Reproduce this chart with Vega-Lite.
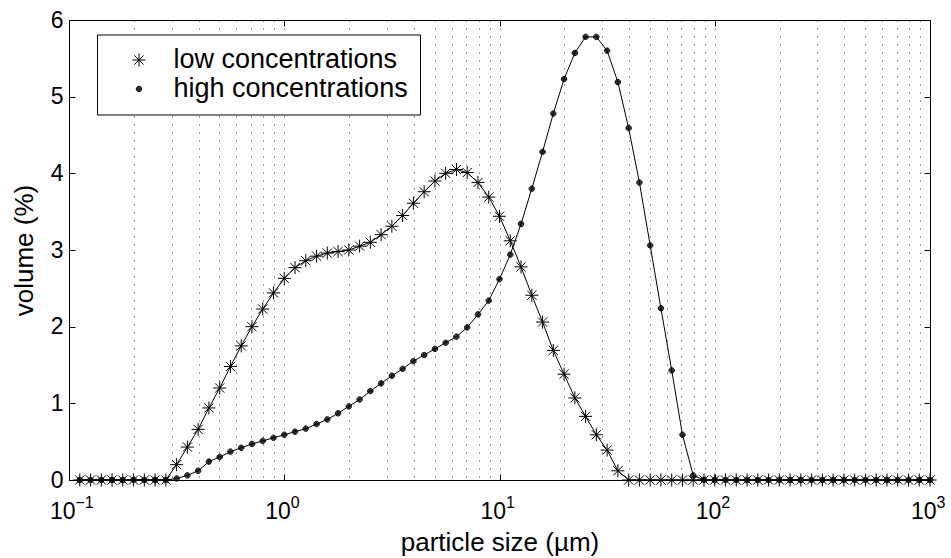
{
  "$schema": "https://vega.github.io/schema/vega-lite/v6.json",
  "width": 861,
  "height": 460,
  "autosize": "none",
  "padding": {"left": 69, "top": 20, "right": 21, "bottom": 78},
  "background": "white",
  "config": {"font": "Liberation Sans", "view": {"stroke": null}},
  "data": {"values": [
    {"size": 0.1122, "low": 0, "high": 0},
    {"size": 0.1259, "low": 0, "high": 0},
    {"size": 0.1413, "low": 0, "high": 0},
    {"size": 0.1585, "low": 0, "high": 0},
    {"size": 0.1778, "low": 0, "high": 0},
    {"size": 0.1995, "low": 0, "high": 0},
    {"size": 0.2239, "low": 0, "high": 0},
    {"size": 0.2512, "low": 0, "high": 0},
    {"size": 0.2818, "low": 0, "high": 0},
    {"size": 0.3162, "low": 0.2, "high": 0.02},
    {"size": 0.3548, "low": 0.43, "high": 0.06},
    {"size": 0.3981, "low": 0.66, "high": 0.12},
    {"size": 0.4467, "low": 0.94, "high": 0.24},
    {"size": 0.5012, "low": 1.2, "high": 0.3},
    {"size": 0.5623, "low": 1.48, "high": 0.37},
    {"size": 0.631, "low": 1.75, "high": 0.42},
    {"size": 0.7079, "low": 2.0, "high": 0.47},
    {"size": 0.7943, "low": 2.23, "high": 0.51},
    {"size": 0.8913, "low": 2.44, "high": 0.55},
    {"size": 1.0, "low": 2.63, "high": 0.59},
    {"size": 1.122, "low": 2.77, "high": 0.63},
    {"size": 1.259, "low": 2.86, "high": 0.67},
    {"size": 1.413, "low": 2.92, "high": 0.73},
    {"size": 1.585, "low": 2.96, "high": 0.79},
    {"size": 1.778, "low": 2.98, "high": 0.87},
    {"size": 1.995, "low": 3.0, "high": 0.96},
    {"size": 2.239, "low": 3.05, "high": 1.05},
    {"size": 2.512, "low": 3.1, "high": 1.16},
    {"size": 2.818, "low": 3.2, "high": 1.26},
    {"size": 3.162, "low": 3.31, "high": 1.36},
    {"size": 3.548, "low": 3.45, "high": 1.45},
    {"size": 3.981, "low": 3.61, "high": 1.55},
    {"size": 4.467, "low": 3.76, "high": 1.63},
    {"size": 5.012, "low": 3.9, "high": 1.71},
    {"size": 5.623, "low": 4.0, "high": 1.79},
    {"size": 6.31, "low": 4.05, "high": 1.87},
    {"size": 7.079, "low": 4.01, "high": 1.99},
    {"size": 7.943, "low": 3.88, "high": 2.16},
    {"size": 8.913, "low": 3.69, "high": 2.34},
    {"size": 10.0, "low": 3.44, "high": 2.62},
    {"size": 11.22, "low": 3.12, "high": 2.94},
    {"size": 12.59, "low": 2.78, "high": 3.34},
    {"size": 14.13, "low": 2.41, "high": 3.8},
    {"size": 15.85, "low": 2.06, "high": 4.28},
    {"size": 17.78, "low": 1.69, "high": 4.78},
    {"size": 19.95, "low": 1.38, "high": 5.23},
    {"size": 22.39, "low": 1.07, "high": 5.57},
    {"size": 25.12, "low": 0.83, "high": 5.78},
    {"size": 28.18, "low": 0.59, "high": 5.78},
    {"size": 31.62, "low": 0.39, "high": 5.6},
    {"size": 35.48, "low": 0.12, "high": 5.19},
    {"size": 39.81, "low": 0, "high": 4.59},
    {"size": 44.67, "low": 0, "high": 3.88},
    {"size": 50.12, "low": 0, "high": 3.06},
    {"size": 56.23, "low": 0, "high": 2.24},
    {"size": 63.1, "low": 0, "high": 1.43},
    {"size": 70.79, "low": 0, "high": 0.59},
    {"size": 79.43, "low": 0, "high": 0.06},
    {"size": 89.13, "low": 0, "high": 0},
    {"size": 100.0, "low": 0, "high": 0},
    {"size": 112.2, "low": 0, "high": 0},
    {"size": 125.9, "low": 0, "high": 0},
    {"size": 141.3, "low": 0, "high": 0},
    {"size": 158.5, "low": 0, "high": 0},
    {"size": 177.8, "low": 0, "high": 0},
    {"size": 199.5, "low": 0, "high": 0},
    {"size": 223.9, "low": 0, "high": 0},
    {"size": 251.2, "low": 0, "high": 0},
    {"size": 281.8, "low": 0, "high": 0},
    {"size": 316.2, "low": 0, "high": 0},
    {"size": 354.8, "low": 0, "high": 0},
    {"size": 398.1, "low": 0, "high": 0},
    {"size": 446.7, "low": 0, "high": 0},
    {"size": 501.2, "low": 0, "high": 0},
    {"size": 562.3, "low": 0, "high": 0},
    {"size": 631.0, "low": 0, "high": 0},
    {"size": 707.9, "low": 0, "high": 0},
    {"size": 794.3, "low": 0, "high": 0},
    {"size": 891.3, "low": 0, "high": 0},
    {"size": 1000.0, "low": 0, "high": 0}
  ]},
  "transform": [{"fold": ["low", "high"], "as": ["series", "volume"]}],
  "layer": [
    {
      "transform": [{"filter": "datum.series == 'low'"}],
      "mark": {"type": "line", "color": "black", "strokeWidth": 1},
      "encoding": {
        "x": {
          "field": "size", "type": "quantitative",
          "scale": {"type": "log", "domain": [0.1, 1000], "nice": false},
          "axis": {
            "orient": "bottom",
            "values": [0.1, 0.2, 0.3, 0.4, 0.5, 0.6, 0.7, 0.8, 0.9, 1, 2, 3, 4, 5, 6, 7, 8, 9, 10, 20, 30, 40, 50, 60, 70, 80, 90, 100, 200, 300, 400, 500, 600, 700, 800, 900, 1000],
            "labelExpr": "datum.value == 0.1 || datum.value == 1 || datum.value == 10 || datum.value == 100 || datum.value == 1000 ? '10' : ''",
            "labelOverlap": false, "labelFlush": false, "labelAlign": "right", "labelOffset": 6,
            "labelFontSize": 23, "labelColor": "black", "labelPadding": 26,
            "tickSize": -6, "tickColor": "black",
            "tickOpacity": {"condition": {"test": "datum.value == 0.1 || datum.value == 1 || datum.value == 10 || datum.value == 100 || datum.value == 1000", "value": 1}, "value": 0},
            "domainColor": "black",
            "grid": true, "gridColor": "black", "gridDash": [1, 7], "gridOpacity": 0.8,
            "title": "particle size (µm)", "titleFontSize": 26, "titleFontWeight": "normal", "titleColor": "black", "titlePadding": 6
          }
        },
        "y": {
          "field": "volume", "type": "quantitative",
          "scale": {"domain": [0, 6], "nice": false},
          "axis": {
            "orient": "left", "values": [0, 1, 2, 3, 4, 5, 6],
            "labelFontSize": 23, "labelColor": "black", "labelPadding": 12,
            "tickSize": -6, "tickColor": "black", "domainColor": "black", "grid": false,
            "title": "volume (%)", "titleFontSize": 26, "titleFontWeight": "normal", "titleColor": "black", "titlePadding": 13
          }
        }
      }
    },
    {
      "transform": [{"filter": "datum.series == 'high'"}],
      "mark": {"type": "line", "color": "black", "strokeWidth": 1},
      "encoding": {
        "x": {
          "field": "size", "type": "quantitative",
          "axis": {
            "orient": "bottom", "values": [0.1, 1, 10, 100, 1000],
            "labelExpr": "datum.value == 0.1 ? '−1' : datum.value == 1 ? '0' : datum.value == 10 ? '1' : datum.value == 100 ? '2' : '3'",
            "labelOverlap": false, "labelFlush": false, "labelAlign": "left", "labelOffset": 6,
            "labelFontSize": 16, "labelColor": "black", "labelPadding": 14,
            "ticks": false, "domain": false, "grid": false, "title": null
          }
        },
        "y": {"field": "volume", "type": "quantitative", "axis": null}
      }
    },
    {
      "mark": {"type": "point", "color": "black", "filled": false, "strokeWidth": 1, "opacity": 1, "size": 169},
      "encoding": {
        "x": {
          "field": "size", "type": "quantitative",
          "axis": {"orient": "top", "values": [0.1, 1, 10, 100, 1000], "labels": false, "tickSize": -6, "tickColor": "black", "domainColor": "black", "grid": false, "title": null}
        },
        "y": {
          "field": "volume", "type": "quantitative",
          "axis": {"orient": "right", "values": [0, 1, 2, 3, 4, 5, 6], "labels": false, "tickSize": -6, "tickColor": "black", "domainColor": "black", "grid": false, "title": null}
        },
        "shape": {
          "field": "series", "type": "nominal",
          "scale": {"domain": ["low", "high"], "range": [
            "M-1,0L1,0M0,-1L0,1M-0.707,-0.707L0.707,0.707M-0.707,0.707L0.707,-0.707",
            "M0.42,0A0.42,0.42,0,1,1,-0.42,0A0.42,0.42,0,1,1,0.42,0ZM0.31,0A0.31,0.31,0,1,1,-0.31,0A0.31,0.31,0,1,1,0.31,0ZM0.2,0A0.2,0.2,0,1,1,-0.2,0A0.2,0.2,0,1,1,0.2,0ZM0.09,0A0.09,0.09,0,1,1,-0.09,0A0.09,0.09,0,1,1,0.09,0Z"
          ]},
          "legend": {
            "orient": "none", "legendX": 28, "legendY": 14.5,
            "title": null,
            "labelExpr": "datum.value == 'low' ? 'low concentrations' : 'high concentrations'",
            "labelFontSize": 27, "labelColor": "black", "labelOffset": 21, "labelLimit": 0,
            "symbolOffset": 16.5, "symbolSize": 169, "symbolStrokeWidth": 1, "symbolStrokeColor": "black",
            "rowPadding": 1, "padding": 12,
            "strokeColor": "black", "fillColor": "white"
          }
        }
      }
    }
  ],
  "resolve": {"axis": {"x": "independent", "y": "independent"}}
}
